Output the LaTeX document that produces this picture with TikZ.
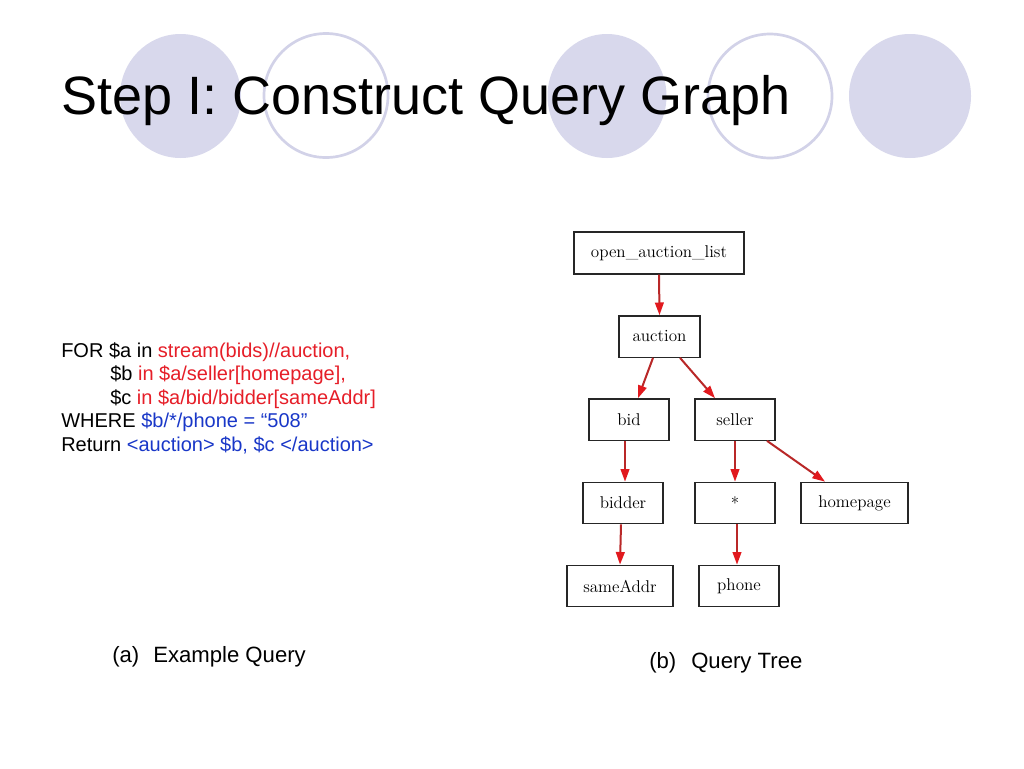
\documentclass[tikz,border=0pt]{standalone}
\usepackage{fontspec}
\newfontfamily\arial{Liberation Sans}
\usetikzlibrary{arrows.meta,calc}
\definecolor{lav}{RGB}{216,216,236}
\definecolor{lavline}{RGB}{210,210,232}
\definecolor{qred}{RGB}{230,30,40}
\definecolor{qblue}{RGB}{25,55,200}
\definecolor{linered}{RGB}{185,40,40}
\definecolor{headred}{RGB}{225,25,30}
\tikzset{
  fcirc/.style={fill=lav, draw=none},
  ocirc/.style={draw=lavline, line width=2pt, fill=none},
  txt/.style={anchor=base west, inner sep=0pt, font=\arial\fontsize{15}{18}\selectfont},
  captxt/.style={anchor=base west, inner sep=0pt, font=\arial\fontsize{16.6}{20}\selectfont},
  tbox/.style={draw=black!85, line width=1pt, minimum height=31pt, minimum width=60pt,
    inner sep=0pt, font=\fontsize{12.8}{15}\selectfont},
  tarr/.style={draw=linered, line width=1.5pt, -{Triangle[length=9.5pt,width=6.5pt,color=headred]}}
}
\begin{document}
\begin{tikzpicture}[x=0.75pt,y=-0.75pt]
\useasboundingbox (0,0) rectangle (1024,768);
\fill[white] (0,0) rectangle (1024,768);
% decorative circles
\fill[fcirc] (180.5,96) circle[x radius=60.5, y radius=62];
\draw[ocirc] (326,95.5) circle[radius=62];
\fill[fcirc] (607,96) circle[x radius=59.5, y radius=62];
\draw[ocirc] (770,96) circle[radius=62];
\fill[fcirc] (910,96) circle[x radius=61, y radius=62];
% title
\node[anchor=base west, inner sep=0pt, font=\arial\fontsize{40.5}{48}\selectfont] (title) at (61,114) {Step I: Construct Query Graph};
% query
\node[txt] (q1) at (61,357) {FOR \$a in \textcolor{qred}{stream(bids)//auction,}};
\node[txt] (q2) at (110,380.5) {\$b \textcolor{qred}{in \$a/seller[homepage],}};
\node[txt] (q3) at (110,404) {\$c \textcolor{qred}{in \$a/bid/bidder[sameAddr]}};
\node[txt] (q4) at (61,427.5) {WHERE \textcolor{qblue}{\$b/*/phone = “508”}};
\node[txt] (q5) at (61,451) {Return \textcolor{qblue}{<auction> \$b, \$c </auction>}};
% captions
\node[captxt] (capa) at (112,662) {(a)};
\node[captxt] (capat) at (153,662) {Example Query};
\node[captxt] (capb) at (649,668) {(b)};
\node[captxt] (capbt) at (691,668) {Query Tree};
% tree
\node[tbox, minimum width=127.5pt, minimum height=31.5pt] (oal) at (659,253) {open\textunderscore auction\textunderscore list};
\node[tbox, minimum width=60.75pt] (auction) at (659.5,336.5) {auction};
\node[tbox] (bid) at (629,419.5) {bid};
\node[tbox] (seller) at (735,419.5) {seller};
\node[tbox] (bidder) at (623,503) {bidder};
\node[tbox] (star) at (735,503) {*};
\node[tbox, minimum width=80.25pt] (homepage) at (854.5,503) {homepage};
\node[tbox, minimum width=79.5pt] (sameaddr) at (620,586) {sameAddr};
\node[tbox] (phone) at (739,586) {phone};
% edges
\draw[tarr] (oal.south) -- (auction.north);
\draw[tarr] ($(auction.south)+(-6.5,0)$) -- ($(bid.north)+(9,0)$);
\draw[tarr] ($(auction.south)+(20.5,0)$) -- ($(seller.north)+(-20,0)$);
\draw[tarr] ($(bid.south)+(-4,0)$) -- ($(bidder.north)+(2,0)$);
\draw[tarr] (seller.south) -- (star.north);
\draw[tarr] ($(seller.south)+(32,0)$) -- ($(homepage.north)+(-29.5,0)$);
\draw[tarr] ($(bidder.south)+(-2,0)$) -- (sameaddr.north);
\draw[tarr] ($(star.south)+(2,0)$) -- ($(phone.north)+(-2,0)$);
\end{tikzpicture}
\end{document}
